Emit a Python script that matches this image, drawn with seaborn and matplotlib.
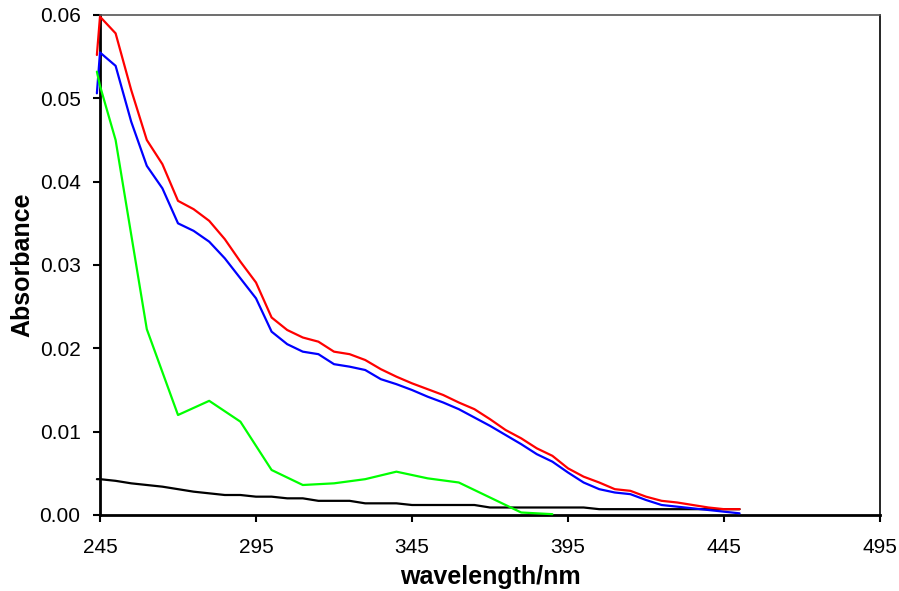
import matplotlib
matplotlib.use("Agg")
import matplotlib.pyplot as plt
import seaborn as sns
import pandas as pd

# Data
wl_main = [244, 245, 250, 255, 260, 265, 270, 275, 280, 285, 290, 295, 300, 305, 310, 315,
           320, 325, 330, 335, 340, 345, 350, 355, 360, 365, 370, 375, 380, 385, 390, 395,
           400, 405, 410, 415, 420, 425, 430, 435, 440, 445, 450]
red = [0.0552, 0.0598, 0.0578, 0.0510, 0.0450, 0.0421, 0.0377, 0.0367, 0.0353, 0.0331, 0.0304,
       0.0279, 0.0237, 0.0222, 0.0213, 0.0208, 0.0196, 0.0193, 0.0186, 0.0175, 0.0166, 0.0158,
       0.0151, 0.0144, 0.0135, 0.0127, 0.0115, 0.0102, 0.0092, 0.0080, 0.0071, 0.0056, 0.0046,
       0.0039, 0.0031, 0.0029, 0.0022, 0.0017, 0.0015, 0.0012, 0.0009, 0.0007, 0.0007]
blue = [0.0506, 0.0555, 0.0539, 0.0472, 0.0419, 0.0392, 0.0350, 0.0341, 0.0328, 0.0308, 0.0284,
        0.0260, 0.0220, 0.0205, 0.0196, 0.0193, 0.0181, 0.0178, 0.0174, 0.0163, 0.0157, 0.0150,
        0.0142, 0.0135, 0.0127, 0.0117, 0.0107, 0.0096, 0.0085, 0.0073, 0.0064, 0.0051, 0.0039,
        0.0031, 0.0027, 0.0025, 0.0018, 0.0012, 0.0010, 0.0008, 0.0006, 0.0004, 0.0002]
black = [0.0043, 0.0043, 0.0041, 0.0038, 0.0036, 0.0034, 0.0031, 0.0028, 0.0026, 0.0024, 0.0024,
         0.0022, 0.0022, 0.0020, 0.0020, 0.0017, 0.0017, 0.0017, 0.0014, 0.0014, 0.0014, 0.0012,
         0.0012, 0.0012, 0.0012, 0.0012, 0.0009, 0.0009, 0.0009, 0.0009, 0.0009, 0.0009, 0.0009,
         0.0007, 0.0007, 0.0007, 0.0007, 0.0007, 0.0007, 0.0007, 0.0007, 0.0007, 0.0007]
wl_green = [244, 245, 250, 260, 270, 280, 290, 300, 310, 320, 330, 340, 350, 360, 370, 380, 390]
green = [0.0532, 0.0515, 0.0450, 0.0223, 0.0120, 0.0137, 0.0112, 0.0054, 0.0036, 0.0038,
         0.0043, 0.0052, 0.0044, 0.0039, 0.0021, 0.0003, 0.0001]

xticks = [245, 295, 345, 395, 445, 495]
yticks = [0.00, 0.01, 0.02, 0.03, 0.04, 0.05, 0.06]

sns.set_style("white")
plt.rcParams['font.family'] = ['Liberation Sans', 'DejaVu Sans']

fig = plt.figure(figsize=(8.99, 5.91), dpi=100)
ax = fig.add_axes([100 / 899, 1 - 515 / 591, 780 / 899, 500 / 591])

df_main = pd.DataFrame({"wl": wl_main, "red": red, "blue": blue, "black": black})
df_green = pd.DataFrame({"wl": wl_green, "green": green})

for col, color in [("black", "black"), ("blue", "#0000ff"), ("red", "#ff0000")]:
    sns.lineplot(data=df_main, x="wl", y=col, color=color, lw=1.6, ax=ax,
                 clip_on=False, zorder=3)
sns.lineplot(data=df_green, x="wl", y="green", color="#00ff00", lw=1.6, ax=ax,
             clip_on=False, zorder=3)

ax.set_xlim(245, 495)
ax.set_ylim(0, 0.06)
ax.set_xticks(xticks)
ax.set_xticklabels([str(t) for t in xticks])
ax.set_yticks(yticks)
ax.set_yticklabels([f"{t:.2f}" for t in yticks])

ax.set_xlabel("wavelength/nm", fontsize=18, fontweight="bold", labelpad=6, color="black")
ax.set_ylabel("Absorbance", fontsize=18, fontweight="bold", labelpad=4, color="black")

ax.tick_params(axis="both", which="major", labelsize=15, direction="out",
               length=5, width=1.5, color="black", labelcolor="black")
ax.tick_params(axis="x", pad=11.5)
ax.tick_params(axis="y", pad=9)
ax.xaxis.set_ticks_position("bottom")
ax.yaxis.set_ticks_position("left")

for side in ["left", "bottom"]:
    ax.spines[side].set_color("black")
    ax.spines[side].set_linewidth(2)
for side in ["top", "right"]:
    ax.spines[side].set_color("black")
    ax.spines[side].set_linewidth(1.2)
ax.spines["top"].set_color("#555555")

fig.savefig("out.png", dpi=100)
